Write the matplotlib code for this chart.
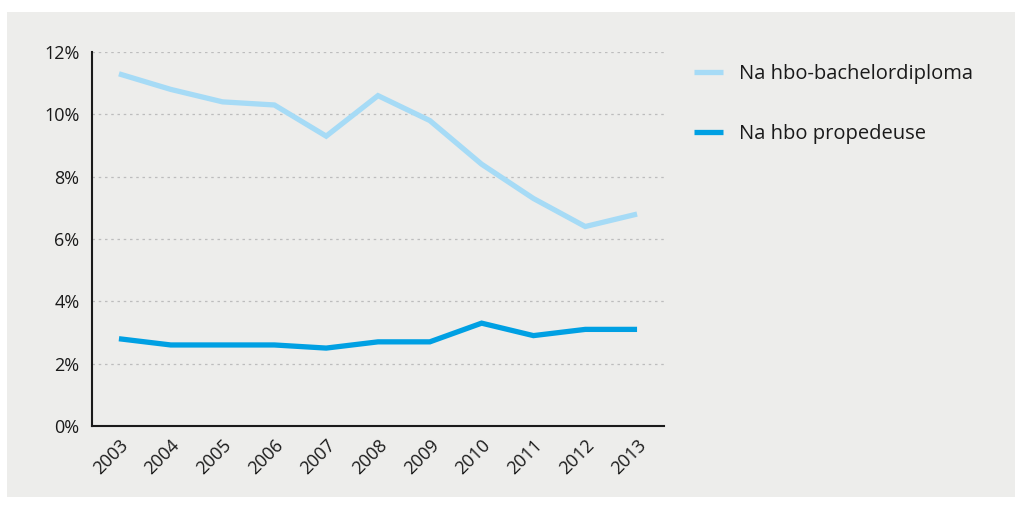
import matplotlib
matplotlib.use("Agg")
import matplotlib.pyplot as plt
from matplotlib.patches import Rectangle
from matplotlib.ticker import FuncFormatter

plt.rcParams["font.family"] = ["Open Sans", "DejaVu Sans"]

# data
years = ["2003", "2004", "2005", "2006", "2007", "2008", "2009", "2010", "2011", "2012", "2013"]
bachelor = [11.3, 10.8, 10.4, 10.3, 9.3, 10.6, 9.8, 8.4, 7.3, 6.4, 6.8]
propedeuse = [2.8, 2.6, 2.6, 2.6, 2.5, 2.7, 2.7, 3.3, 2.9, 3.1, 3.1]
series_names = ["Na hbo-bachelordiploma", "Na hbo propedeuse"]

BG = "#ededeb"
LIGHT = "#a6dbf6"
DARK = "#00a0e3"

fig = plt.figure(figsize=(10.21, 5.05), dpi=100, facecolor="white")
# grey panel
fig.patches.append(Rectangle((7 / 1021, 8 / 505), 1008 / 1021, 485 / 505,
                             transform=fig.transFigure, facecolor=BG,
                             edgecolor="none", zorder=-1))

ax = fig.add_axes([92 / 1021, 79 / 505, 572 / 1021, 374 / 505])
ax.set_facecolor(BG)

x = range(len(years))
ax.plot(x, bachelor, color=LIGHT, linewidth=3.8, label=series_names[0],
        solid_joinstyle="miter", solid_capstyle="butt")
ax.plot(x, propedeuse, color=DARK, linewidth=3.8, label=series_names[1],
        solid_joinstyle="miter", solid_capstyle="butt")

ax.set_xlim(-0.52, 10.52)
ax.set_ylim(0, 12)
ax.set_yticks([0, 2, 4, 6, 8, 10, 12])
ax.yaxis.set_major_formatter(FuncFormatter(lambda v, p: f"{v:.0f}%"))
ax.set_xticks(list(x))
ax.set_xticklabels(years, rotation=45, ha="right", rotation_mode="anchor")
ax.tick_params(axis="both", length=0, labelsize=13, colors="#1a1a1a")
ax.tick_params(axis="y", pad=9)
ax.tick_params(axis="x", pad=7)

for s in ["top", "right"]:
    ax.spines[s].set_visible(False)
for s in ["left", "bottom"]:
    ax.spines[s].set_color("#1a1a1a")
    ax.spines[s].set_linewidth(1.5)

ax.grid(axis="y", linestyle=(0, (2, 3)), color="#bdbdbd", linewidth=0.9)
ax.set_axisbelow(True)

leg = ax.legend(loc="upper left", bbox_to_anchor=(694 / 1021, 1 - 64 / 505),
                bbox_transform=fig.transFigure, frameon=False,
                borderpad=0, borderaxespad=0,
                fontsize=14.5, handlelength=1.45, handletextpad=0.8,
                labelspacing=2.0)
for t in leg.get_texts():
    t.set_color("#1a1a1a")

fig.savefig("out.png", dpi=100, facecolor="white")
